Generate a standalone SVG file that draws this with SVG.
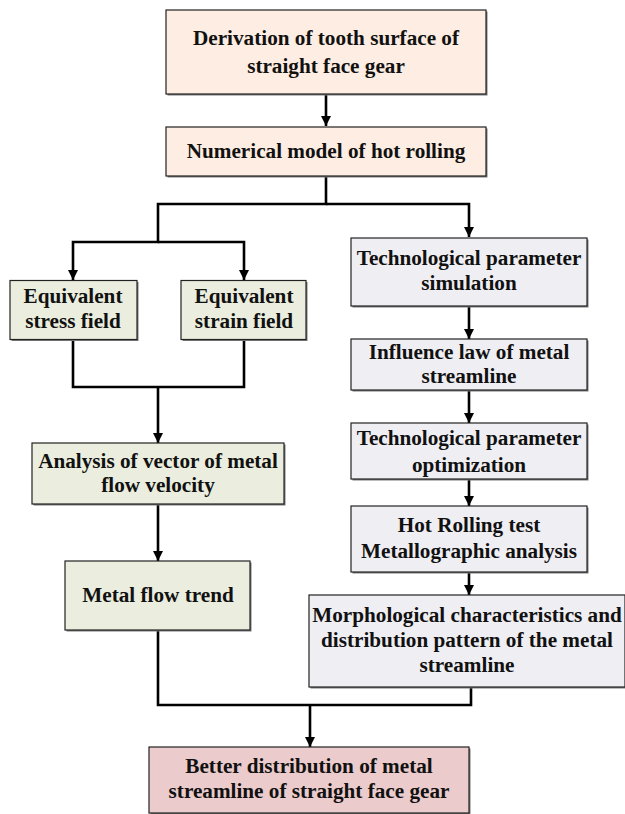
<svg xmlns="http://www.w3.org/2000/svg" width="625" height="814" viewBox="0 0 625 814">
<style>
.box{stroke:#222;stroke-width:1.2}
.sh{fill:#7a7a7a}
.peach{fill:#FDEDE2}
.green{fill:#EBEEDE}
.lav{fill:#EFEEF3}
.pink{fill:#EBCBCB}
text{font-family:"Liberation Serif","Times New Roman",serif;font-weight:bold;font-size:21.2px;fill:#111;text-anchor:middle}
.c{fill:none;stroke:#000;stroke-width:2.6}
</style>
<defs>
<marker id="ah" viewBox="0 0 10 10" refX="10" refY="5" markerWidth="4" markerHeight="4" orient="auto" markerUnits="strokeWidth">
<path d="M0,0 L10,5 L0,10 Z" fill="#000"/>
</marker>
</defs>
<rect width="625" height="814" fill="#fff"/>
<g id="connectors">
<path class="c" d="M326,94 V126" marker-end="url(#ah)"/>
<path class="c" d="M326,176 V204 H158 V242 H73 V280" marker-end="url(#ah)"/>
<path class="c" d="M158,242 H244 V280" marker-end="url(#ah)"/>
<path class="c" d="M326,204 H469 V237" marker-end="url(#ah)"/>
<path class="c" d="M73,339 V387 H244 V339"/>
<path class="c" d="M158,387 V443" marker-end="url(#ah)"/>
<path class="c" d="M158,504 V561" marker-end="url(#ah)"/>
<path class="c" d="M158,630 V705 H471 V687"/>
<path class="c" d="M310,705 V747" marker-end="url(#ah)"/>
<path class="c" d="M469,306 V339" marker-end="url(#ah)"/>
<path class="c" d="M469,390 V423" marker-end="url(#ah)"/>
<path class="c" d="M469,479 V506" marker-end="url(#ah)"/>
<path class="c" d="M469,572 V595" marker-end="url(#ah)"/>
</g>
<g id="n1">
<rect class="sh" x="167.5" y="11.5" width="320" height="84"/>
<rect class="box peach" x="166" y="10" width="320" height="84"/>
<text x="326" y="45">Derivation of tooth surface of</text>
<text x="326" y="73">straight face gear</text>
</g>
<g id="n2">
<rect class="sh" x="167.5" y="128.5" width="320" height="49"/>
<rect class="box peach" x="166" y="127" width="320" height="49"/>
<text x="326" y="158">Numerical model of hot rolling</text>
</g>
<g id="n3">
<rect class="sh" x="11.5" y="282" width="127" height="59"/>
<rect class="box green" x="10" y="280.5" width="127" height="59"/>
<text x="73" y="303">Equivalent</text>
<text x="73" y="328">stress field</text>
</g>
<g id="n4">
<rect class="sh" x="182.5" y="282" width="125" height="59"/>
<rect class="box green" x="181" y="280.5" width="125" height="59"/>
<text x="244" y="303">Equivalent</text>
<text x="244" y="328">strain field</text>
</g>
<g id="n5">
<rect class="sh" x="33.5" y="444.5" width="252" height="61"/>
<rect class="box green" x="32" y="443" width="252" height="61"/>
<text x="158" y="468">Analysis of vector of metal</text>
<text x="158" y="492">flow velocity</text>
</g>
<g id="n6">
<rect class="sh" x="66.5" y="562.5" width="185" height="69"/>
<rect class="box green" x="65" y="561" width="185" height="69"/>
<text x="158" y="602">Metal flow trend</text>
</g>
<g id="n7">
<rect class="sh" x="352.5" y="239.5" width="236" height="68"/>
<rect class="box lav" x="351" y="238" width="236" height="68"/>
<text x="469" y="265">Technological parameter</text>
<text x="469" y="290">simulation</text>
</g>
<g id="n8">
<rect class="sh" x="352.5" y="340.5" width="236" height="51"/>
<rect class="box lav" x="351" y="339" width="236" height="51"/>
<text x="469" y="359">Influence law of metal</text>
<text x="469" y="383">streamline</text>
</g>
<g id="n9">
<rect class="sh" x="352.5" y="424.5" width="236" height="56"/>
<rect class="box lav" x="351" y="423" width="236" height="56"/>
<text x="469" y="445">Technological parameter</text>
<text x="469" y="472">optimization</text>
</g>
<g id="n10">
<rect class="sh" x="352.5" y="507.5" width="236" height="66"/>
<rect class="box lav" x="351" y="506" width="236" height="66"/>
<text x="469" y="532">Hot Rolling test</text>
<text x="469" y="558">Metallographic analysis</text>
</g>
<g id="n11">
<rect class="sh" x="310.5" y="596.5" width="316" height="92"/>
<rect class="box lav" x="309" y="595" width="316" height="92"/>
<text x="467" y="622">Morphological characteristics and</text>
<text x="467" y="647">distribution pattern of the metal</text>
<text x="467" y="672">streamline</text>
</g>
<g id="n12">
<rect class="sh" x="150.5" y="748.5" width="320" height="66"/>
<rect class="box pink" x="149" y="747" width="320" height="66"/>
<text x="309" y="773">Better distribution of metal</text>
<text x="309" y="798">streamline of straight face gear</text>
</g>
</svg>
